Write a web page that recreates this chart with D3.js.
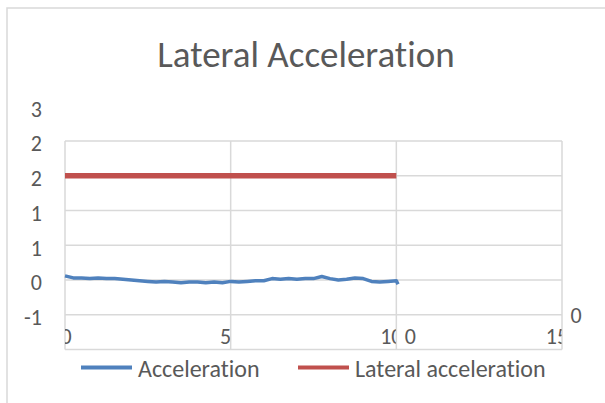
<!DOCTYPE html>
<html>
<head>
<meta charset="utf-8">
<script src="https://cdn.jsdelivr.net/npm/d3@7"></script>
<style>
  body { margin: 0; background: #fff; }
  svg { display: block; }
  text { font-family: Carlito, Lato, "Open Sans", sans-serif; fill: #595959; font-variant-ligatures: none; }
</style>
</head>
<body>
<svg id="chart"></svg>
<script>
// time (s) and lateral acceleration readings
var timeValues = [0, 0.25, 0.5, 0.75, 1, 1.25, 1.5, 1.75, 2, 2.25, 2.5, 2.75, 3, 3.25, 3.5, 3.75,
    4, 4.25, 4.5, 4.75, 5, 5.25, 5.5, 5.75, 6, 6.25, 6.5, 6.75, 7, 7.25, 7.5, 7.75,
    8, 8.25, 8.5, 8.75, 9, 9.25, 9.5, 9.75, 10, 10.05];
var accelValues = [0.06, 0.03, 0.03, 0.02, 0.03, 0.02, 0.02, 0.01, 0.0, -0.01, -0.02, -0.03, -0.02, -0.03, -0.04, -0.03,
    -0.03, -0.04, -0.03, -0.04, -0.02, -0.03, -0.02, -0.01, -0.01, 0.02, 0.01, 0.02, 0.01, 0.02, 0.02, 0.05,
    0.02, 0.0, 0.01, 0.03, 0.02, -0.02, -0.03, -0.02, -0.01, -0.06];
var lateralTimes = [0, 10];
var lateralValues = [1.5, 1.5];

var xTicks = [0, 5, 10, 15];
var yGrid = [-1, -0.5, 0, 0.5, 1, 1.5, 2];
var yTickValues = [-0.5, 0, 0.5, 1, 1.5, 2, 2.5];
var seriesNames = ['Acceleration', 'Lateral acceleration'];

var svgWidth = 605, svgHeight = 403;
var colors = ['#4f81bd', '#c0504d'];
var gridColor = '#d9d9d9';

var svg = d3.select('#chart')
    .attr('width', svgWidth)
    .attr('height', svgHeight);

// chart area border (runs off the right and bottom edge)
svg.append('rect')
    .attr('x', 7).attr('y', 8)
    .attr('width', 620).attr('height', 420)
    .attr('fill', 'none')
    .attr('stroke', gridColor)
    .attr('stroke-width', 1.5);

svg.append('text')
    .attr('x', 306).attr('y', 67)
    .attr('text-anchor', 'middle')
    .style('font-size', '37px')
    .text('Lateral Acceleration');

var x = d3.scaleLinear().domain([0, 15]).range([65, 562]);
var y = d3.scaleLinear().domain([-1, 2]).range([349.5, 141]);

// gridlines
svg.append('g').selectAll('line.h')
    .data(yGrid).enter().append('line')
    .attr('x1', x(0)).attr('x2', x(15))
    .attr('y1', function(d) { return y(d); })
    .attr('y2', function(d) { return y(d); })
    .attr('stroke', gridColor).attr('stroke-width', 1.5);

svg.append('g').selectAll('line.v')
    .data(xTicks).enter().append('line')
    .attr('x1', function(d) { return x(d); })
    .attr('x2', function(d) { return x(d); })
    .attr('y1', y(2)).attr('y2', y(-1))
    .attr('stroke', gridColor).attr('stroke-width', 1.5);

// y labels, rounded the way the picture shows them
function roundAway(v) { return v < 0 ? -Math.round(-v) : Math.round(v); }
var yAxis = d3.axisLeft(y).tickValues(yTickValues).tickSize(0).tickPadding(0)
    .tickFormat(function(d) { return String(roundAway(d)); });
var yg = svg.append('g').attr('transform', 'translate(42,0)').call(yAxis);
yg.select('.domain').remove();
yg.selectAll('text')
    .attr('dy', '0.36em')
    .attr('transform', 'translate(0,2)')
    .style('font-size', '22px')
    .style('font-family', 'Carlito, Lato, "Open Sans", sans-serif')
    .attr('fill', '#595959');

// x labels, clipped at the gridlines as in the picture
var defs = svg.append('defs');
xTicks.forEach(function(t, i) {
    var left = i === 0 ? x(0) : x(t) - 60;
    var right = i === 0 ? x(0) + 60 : x(t) - 0.5;
    defs.append('clipPath').attr('id', 'xclip' + i)
        .append('rect')
        .attr('x', left).attr('y', 320)
        .attr('width', right - left).attr('height', 30);
});
svg.append('g').selectAll('text.xl')
    .data(xTicks).enter().append('text')
    .attr('x', function(d, i) { return i === 0 ? x(d) + 1 : x(d) - 5; })
    .attr('y', 344)
    .attr('text-anchor', 'middle')
    .attr('clip-path', function(d, i) { return 'url(#xclip' + i + ')'; })
    .style('font-size', '22px')
    .text(function(d) { return d; });

// stray zero labels
svg.append('text').attr('x', x(10) + 14).attr('y', 344)
    .attr('text-anchor', 'middle').style('font-size', '22px').text('0');
svg.append('text').attr('x', 576).attr('y', 323)
    .attr('text-anchor', 'middle').style('font-size', '22px').text('0');

var line = d3.line()
    .x(function(d) { return x(d[0]); })
    .y(function(d) { return y(d[1]); });

var accelData = timeValues.map(function(t, i) { return [t, accelValues[i]]; });
var lateralData = lateralTimes.map(function(t, i) { return [t, lateralValues[i]]; });

svg.append('path')
    .datum(lateralData)
    .attr('fill', 'none')
    .attr('stroke', colors[1])
    .attr('stroke-width', 5.5)
    .attr('d', line);

svg.append('path')
    .datum(accelData)
    .attr('fill', 'none')
    .attr('stroke', colors[0])
    .attr('stroke-width', 3.5)
    .attr('stroke-linejoin', 'round')
    .attr('d', line);

// legend
var legendItems = [
    { name: seriesNames[0], color: colors[0], x0: 81 },
    { name: seriesNames[1], color: colors[1], x0: 298 }
];
var lg = svg.append('g');
legendItems.forEach(function(it) {
    lg.append('line')
        .attr('x1', it.x0).attr('x2', it.x0 + 51)
        .attr('y1', 367.5).attr('y2', 367.5)
        .attr('stroke', it.color).attr('stroke-width', 4);
    lg.append('text')
        .attr('x', it.x0 + 57).attr('y', 377)
        .style('font-size', '24px')
        .text(it.name);
});
</script>
</body>
</html>
